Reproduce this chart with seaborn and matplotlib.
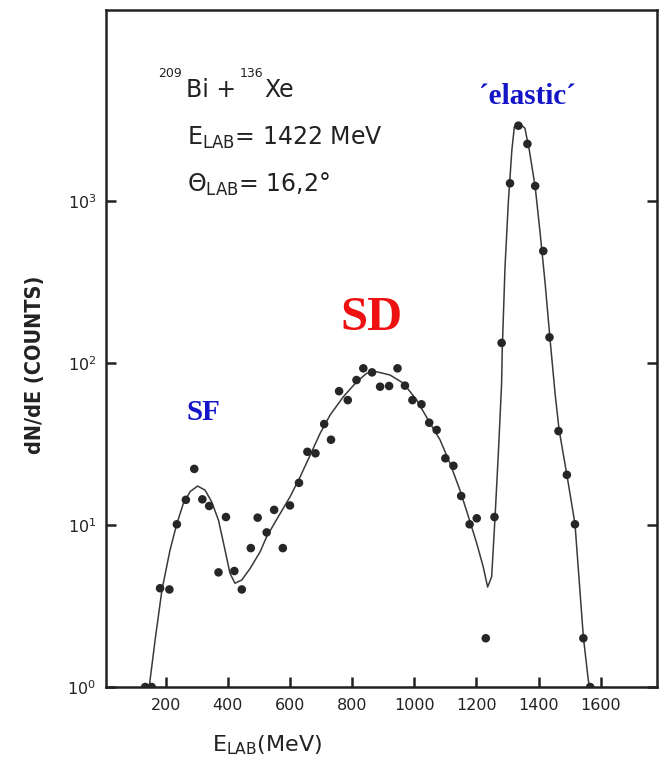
import matplotlib
matplotlib.use("Agg")
import matplotlib.pyplot as plt
import pandas as pd
import seaborn as sns

# measured spectrum (points)
e_pts = [134, 155, 182, 212, 236, 265, 292, 318, 340, 370, 394, 421, 445, 474,
         496, 525, 549, 577, 600, 629, 656, 682, 710, 732, 758, 786, 814, 836,
         864, 890, 919, 946, 970, 994, 1023, 1048, 1072, 1100, 1126, 1151, 1178,
         1201, 1230, 1258, 1281, 1308, 1335, 1364, 1389, 1415, 1435, 1464, 1491,
         1517, 1544, 1566]
n_pts = [1.0, 1.0, 4.07, 4.0, 10.1, 14.3, 22.2, 14.4, 13.1, 5.1, 11.2, 5.2, 4.0, 7.2,
         11.1, 9.0, 12.4, 7.2, 13.2, 18.2, 28.3, 27.7, 42, 33.6, 67, 59, 78.5, 92.7,
         87.5, 71.4, 72.1, 92.7, 72.5, 59, 55.6, 42.8, 38.6, 25.8, 23.2, 15.1, 10.1,
         11.0, 2.0, 11.2, 133, 1286, 2917, 2250, 1238, 491, 144, 38, 20.4,
         10.1, 2.0, 1.0]

# fitted curve
e_fit = [147, 166, 188, 214, 236, 257, 279, 303, 327, 348, 370, 391, 407, 423,
         445, 472, 504, 525, 563, 600, 633, 665, 697, 729, 772, 815, 847, 879,
         922, 965, 1008, 1051, 1083, 1115, 1147, 1174, 1201, 1222, 1236, 1249,
         1260, 1271, 1281, 1283, 1292, 1303, 1314, 1322, 1338, 1356, 1370, 1389,
         1405, 1421, 1437, 1453, 1466, 1491, 1517, 1544, 1560, 1564]
n_fit = [1.0, 1.95, 3.97, 7.0, 10.2, 13.6, 16.1, 17.4, 16.4, 13.9, 10.7, 7.0, 5.03, 4.37,
         4.58, 5.4, 6.84, 8.47, 11.3, 14.9, 19.9, 27.0, 36.8, 47.7, 62, 76.7, 86.4, 88.3,
         84.3, 75, 59, 42.4, 33.5, 24, 16.4, 11.3, 7.7, 5.5, 4.14, 4.8,
         11.3, 29, 75, 120, 393, 1014, 2064, 2875, 3018, 2811, 2064, 1225,
         632, 311, 139, 65, 38.6, 20.4, 10.2, 2.04, 1.1, 1.0]

pts = pd.DataFrame({"E": e_pts, "N": n_pts})
fit = pd.DataFrame({"E": e_fit, "N": n_fit})

x_ticks = [200, 400, 600, 800, 1000, 1200, 1400, 1600]
y_ticks = [1, 10, 100, 1000]
y_labels = [r"10$^0$", r"10$^1$", r"10$^2$", r"10$^3$"]

sns.set_style("ticks")
plt.rcParams["font.family"] = ["DejaVu Sans"]
plt.rcParams["mathtext.fontset"] = "dejavusans"

W, H = 661, 773
fig = plt.figure(figsize=(W / 100, H / 100), dpi=100)
ax = fig.add_axes([106 / W, 1 - 687 / H, 551 / W, 677 / H])

sns.lineplot(data=fit, x="E", y="N", ax=ax, color="#3a3a3a", lw=1.1,
             sort=False, estimator=None)
sns.scatterplot(data=pts, x="E", y="N", ax=ax, color="#262626", s=38,
                edgecolor="none", zorder=3)

ax.set_yscale("log")
ax.set_xlim(8, 1781)
ax.set_ylim(1, 15100)
ax.set_xticks(x_ticks)
ax.set_xticklabels([str(t) for t in x_ticks], fontsize=11.5, color="#222")
ax.set_yticks(y_ticks)
ax.set_yticklabels(y_labels, fontsize=11.5, color="#222")
ax.minorticks_off()
ax.tick_params(axis="both", direction="in", length=7, width=1.8, color="#222")
ax.tick_params(axis="x", pad=8)
ax.tick_params(axis="y", pad=7, right=True)
ax.set_xlabel("")
ax.set_ylabel("")
for sp in ax.spines.values():
    sp.set_visible(True)
    sp.set_linewidth(1.8)
    sp.set_color("#222")

def px(x, y):
    return x / W, 1 - y / H

fig.text(*px(35, 365), "dN/dE (COUNTS)", rotation=90, ha="center", va="center",
         fontsize=15.5, fontweight="bold", color="#222", fontstretch="condensed")
fig.text(*px(267, 745), r"E$_{\rm LAB}$(MeV)", ha="center", va="center",
         fontsize=16, color="#222")

# reaction label, small superscript mass numbers
fig.text(*px(158, 77), "209", ha="left", va="baseline", fontsize=9, color="#222")
fig.text(*px(186, 97), "Bi +", ha="left", va="baseline", fontsize=17, color="#222")
fig.text(*px(240, 77), "136", ha="left", va="baseline", fontsize=9, color="#222")
fig.text(*px(264, 97), "Xe", ha="left", va="baseline", fontsize=17, color="#222")
fig.text(*px(187, 145), r"E$_{\rm LAB}$= 1422 MeV", ha="left", va="baseline",
         fontsize=17, color="#222")
fig.text(*px(187, 192), r"$\Theta_{\rm LAB}$= 16,2°", ha="left", va="baseline",
         fontsize=17, color="#222")

serif = ["Liberation Serif", "DejaVu Serif"]
fig.text(*px(203, 413), "SF", ha="center", va="center", fontsize=21,
         fontweight="bold", color="#1414c8", family=serif)
fig.text(*px(372, 318), "SD", ha="center", va="center", fontsize=35,
         fontweight="bold", color="#ee1111", family=serif)
fig.text(*px(527, 97), "\u00b4elastic\u00b4", ha="center", va="center", fontsize=21,
         fontweight="bold", color="#1414c8", family=serif)

fig.savefig("out.png", dpi=100)
